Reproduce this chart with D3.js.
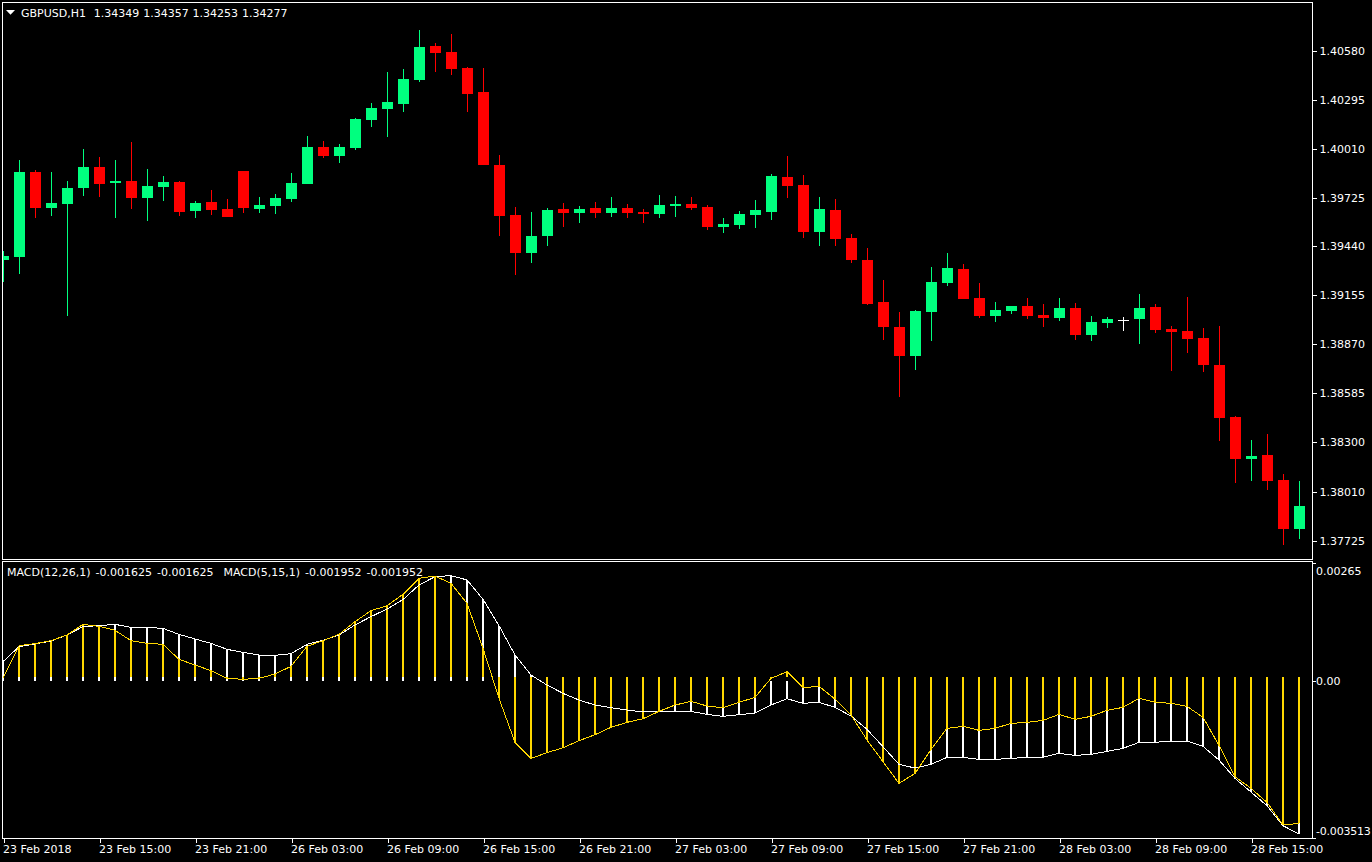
<!DOCTYPE html>
<html>
<head>
<meta charset="utf-8">
<script src="https://d3js.org/d3.v7.min.js"></script>
<style>
html,body{margin:0;padding:0;background:#000;overflow:hidden}
svg{display:block}
text{font-family:"DejaVu Sans",sans-serif;font-size:11px;fill:#fff}
</style>
</head>
<body>
<svg id="c" width="1372" height="862"></svg>
<script>
const symbolLabel = "GBPUSD,H1  1.34349 1.34357 1.34253 1.34277";
const macdLabel = "MACD(12,26,1) -0.001625 -0.001625  MACD(5,15,1) -0.001952 -0.001952";

const opens = [1.39360,1.39378,1.39874,1.39664,1.39687,1.39780,1.39903,1.39809,1.39821,1.39722,1.39786,1.39815,1.39646,1.39699,1.39658,1.39880,1.39658,1.39675,1.39716,1.39804,1.40019,1.39967,1.40014,1.40177,1.40241,1.40270,1.40410,1.40608,1.40573,1.40480,1.40340,1.39914,1.39623,1.39401,1.39500,1.39658,1.39635,1.39664,1.39635,1.39664,1.39640,1.39629,1.39675,1.39687,1.39670,1.39553,1.39565,1.39623,1.39640,1.39845,1.39798,1.39524,1.39652,1.39489,1.39360,1.39116,1.38970,1.38801,1.39057,1.39226,1.39308,1.39139,1.39034,1.39063,1.39092,1.39040,1.39022,1.39081,1.38923,1.38993,1.39013,1.39016,1.39087,1.38958,1.38947,1.38906,1.38748,1.38445,1.38200,1.38224,1.38078,1.37792];
const highs = [1.39413,1.39944,1.39885,1.39874,1.39821,1.40008,1.39961,1.39944,1.40048,1.39891,1.39850,1.39821,1.39704,1.39769,1.39716,1.39880,1.39728,1.39745,1.39868,1.40084,1.40054,1.40037,1.40188,1.40276,1.40457,1.40474,1.40702,1.40626,1.40678,1.40486,1.40480,1.39973,1.39670,1.39640,1.39664,1.39693,1.39675,1.39699,1.39728,1.39687,1.39658,1.39739,1.39734,1.39728,1.39681,1.39605,1.39646,1.39710,1.39862,1.39967,1.39856,1.39728,1.39716,1.39512,1.39430,1.39244,1.39057,1.39069,1.39320,1.39401,1.39337,1.39226,1.39116,1.39092,1.39139,1.39104,1.39139,1.39110,1.39034,1.39028,1.39028,1.39162,1.39104,1.38976,1.39145,1.38964,1.38976,1.38451,1.38311,1.38346,1.38113,1.38072];
const lows = [1.39232,1.39279,1.39605,1.39617,1.39034,1.39734,1.39728,1.39605,1.39658,1.39588,1.39704,1.39617,1.39605,1.39623,1.39611,1.39635,1.39635,1.39629,1.39699,1.39804,1.39955,1.39926,1.40002,1.40136,1.40078,1.40223,1.40398,1.40457,1.40439,1.40223,1.39914,1.39500,1.39273,1.39343,1.39442,1.39553,1.39576,1.39605,1.39611,1.39605,1.39576,1.39605,1.39611,1.39652,1.39535,1.39518,1.39541,1.39547,1.39594,1.39722,1.39489,1.39442,1.39442,1.39343,1.39098,1.38894,1.38562,1.38719,1.38888,1.39208,1.39133,1.39022,1.38999,1.39046,1.39016,1.38970,1.39005,1.38894,1.38888,1.38964,1.38947,1.38871,1.38935,1.38713,1.38818,1.38708,1.38305,1.38061,1.38072,1.38019,1.37699,1.37734];
const closes = [1.39384,1.39874,1.39664,1.39693,1.39780,1.39903,1.39804,1.39821,1.39722,1.39792,1.39815,1.39640,1.39693,1.39652,1.39611,1.39664,1.39681,1.39722,1.39809,1.40019,1.39967,1.40019,1.40183,1.40247,1.40282,1.40416,1.40602,1.40567,1.40474,1.40328,1.39914,1.39617,1.39401,1.39500,1.39652,1.39635,1.39658,1.39635,1.39664,1.39635,1.39629,1.39681,1.39687,1.39664,1.39553,1.39570,1.39629,1.39652,1.39850,1.39792,1.39524,1.39658,1.39483,1.39360,1.39104,1.38970,1.38801,1.39063,1.39232,1.39314,1.39133,1.39034,1.39069,1.39092,1.39034,1.39022,1.39081,1.38923,1.38999,1.39016,1.39013,1.39081,1.38952,1.38941,1.38900,1.38748,1.38439,1.38200,1.38218,1.38072,1.37792,1.37926];

// MACD values in millionths of a price unit
const macdWhite = [439,775,835,902,1036,1224,1246,1275,1208,1208,1185,1051,947,849,715,647,588,580,618,827,916,1036,1261,1448,1619,1830,2157,2344,2366,2270,1836,1246,588,139,-85,-271,-421,-533,-593,-645,-689,-689,-675,-675,-742,-787,-750,-712,-533,-391,-495,-473,-585,-779,-1078,-1467,-1863,-1945,-1863,-1706,-1706,-1751,-1751,-1729,-1706,-1706,-1616,-1661,-1639,-1572,-1504,-1370,-1370,-1340,-1340,-1459,-1766,-2177,-2483,-2789,-3237,-3425];
const macdGold = [65,797,842,910,1036,1275,1230,1141,910,849,827,491,364,237,65,43,65,162,334,782,910,1051,1336,1581,1693,1948,2306,2359,2194,1746,737,-383,-1370,-1728,-1601,-1490,-1333,-1198,-1033,-921,-839,-675,-533,-451,-555,-593,-473,-361,65,214,-144,-114,-399,-757,-1317,-1803,-2289,-2065,-1527,-1056,-1011,-1101,-1056,-944,-921,-877,-742,-854,-787,-652,-585,-383,-473,-495,-563,-809,-1437,-2139,-2401,-2715,-3223,-3185];
const macdGoldBase = 88;

const priceTicks = [1.40580,1.40295,1.40010,1.39725,1.39440,1.39155,1.38870,1.38585,1.38300,1.38010,1.37725];
const priceTickLabels = ["1.40580","1.40295","1.40010","1.39725","1.39440","1.39155","1.38870","1.38585","1.38300","1.38010","1.37725"];
const macdTicks = [2650,0,-3513];
const macdTickLabels = ["0.00265","0.00","-0.003513"];
const timeTicks = [0,6,12,18,24,30,36,42,48,54,60,66,72,78];
const timeTickLabels = ["23 Feb 2018","23 Feb 15:00","23 Feb 21:00","26 Feb 03:00","26 Feb 09:00","26 Feb 15:00","26 Feb 21:00","27 Feb 03:00","27 Feb 09:00","27 Feb 15:00","27 Feb 21:00","28 Feb 03:00","28 Feb 09:00","28 Feb 15:00"];

const BULL = "#00ff7f", BEAR = "#ff0000", DOJI = "#ffffff", GOLD = "#ffd700", WHITE = "#ffffff";
const pane = {left:2.5, right:1312.5, mainTop:2.5, mainBottom:559.5, subTop:561.5, subBottom:838.5};

const svg = d3.select("#c");
const x = d3.scaleLinear().domain([0,81]).range([3.5,1299.5]);
const yP = d3.scaleLinear().domain([1.37725,1.39725]).range([540.5,197.5]);
const yM = d3.scaleLinear().domain([-3513,2650]).range([838,563]);

const defs = svg.append("defs");
defs.append("clipPath").attr("id","cm").append("rect")
  .attr("x",pane.left+.5).attr("y",pane.mainTop+.5)
  .attr("width",pane.right-pane.left-1).attr("height",pane.mainBottom-pane.mainTop-1);
defs.append("clipPath").attr("id","cs").append("rect")
  .attr("x",pane.left+.5).attr("y",pane.subTop+.5)
  .attr("width",pane.right-pane.left-1).attr("height",pane.subBottom-pane.subTop-1);

const candles = opens.map((o,i)=>({i,o,h:highs[i],l:lows[i],c:closes[i]}));
const colour = d => d.c>d.o ? BULL : d.c<d.o ? BEAR : DOJI;

const gC = svg.append("g").attr("clip-path","url(#cm)").attr("shape-rendering","crispEdges");
gC.selectAll("line.w").data(candles).join("line").attr("class","w")
  .attr("x1",d=>x(d.i)).attr("x2",d=>x(d.i))
  .attr("y1",d=>yP(d.h)).attr("y2",d=>yP(d.l))
  .attr("stroke",colour).attr("stroke-width",1);
gC.selectAll("rect.b").data(candles).join("rect").attr("class","b")
  .attr("x",d=>x(d.i)-5.5).attr("width",11)
  .attr("y",d=>Math.min(yP(d.o),yP(d.c)))
  .attr("height",d=>Math.max(1,Math.abs(yP(d.o)-yP(d.c))))
  .attr("fill",colour);

const gM = svg.append("g").attr("clip-path","url(#cs)").attr("shape-rendering","crispEdges");
const barX = i => x(i)-.5;
gM.selectAll("line.bw").data(macdWhite).join("line").attr("class","bw")
  .attr("x1",(d,i)=>barX(i)).attr("x2",(d,i)=>barX(i))
  .attr("y1",yM(0)-.5).attr("y2",d=>yM(d))
  .attr("stroke",WHITE).attr("stroke-width",2);
gM.selectAll("line.bg").data(macdGold).join("line").attr("class","bg")
  .attr("x1",(d,i)=>barX(i)).attr("x2",(d,i)=>barX(i))
  .attr("y1",yM(macdGoldBase)).attr("y2",d=>yM(d))
  .attr("stroke",GOLD).attr("stroke-width",2);
const path = d3.line().x((d,i)=>barX(i)).y(d=>yM(d));
svg.append("path").datum(macdWhite).attr("clip-path","url(#cs)").attr("d",path)
  .attr("fill","none").attr("stroke",WHITE).attr("stroke-width",1).attr("shape-rendering","crispEdges");
svg.append("path").datum(macdGold).attr("clip-path","url(#cs)").attr("d",path)
  .attr("fill","none").attr("stroke",GOLD).attr("stroke-width",1).attr("shape-rendering","crispEdges");

// pane frames
[[pane.mainTop,pane.mainBottom],[pane.subTop,pane.subBottom]].forEach(([t,b])=>{
  svg.append("rect").attr("x",pane.left).attr("y",t)
    .attr("width",pane.right-pane.left).attr("height",b-t)
    .attr("fill","none").attr("stroke","#fff").attr("stroke-width",1).attr("shape-rendering","crispEdges");
});

function styleAxis(g){
  g.select(".domain").remove();
  g.selectAll("line").attr("stroke","#fff").attr("shape-rendering","crispEdges");
  g.selectAll("text").attr("fill","#fff").style("font-family",'"DejaVu Sans",sans-serif').style("font-size","11px");
}
const axP = d3.axisRight(yP).tickValues(priceTicks).tickFormat((d,i)=>priceTickLabels[i]).tickSize(4).tickPadding(3);
svg.append("g").attr("transform",`translate(${pane.right},0)`).call(axP).call(styleAxis);
const axM = d3.axisRight(yM).tickValues(macdTicks).tickFormat((d,i)=>macdTickLabels[i]).tickSize(3).tickPadding(0.5);
const gAM = svg.append("g").attr("transform",`translate(${pane.right},0)`).call(axM).call(styleAxis);
gAM.selectAll("text").attr("dy",(d,i)=> i===0 ? "11.4" : i===2 ? "-3.3" : "3.6")
  .style("letter-spacing",(d,i)=> i===2 ? "-0.2px" : null);
const axT = d3.axisBottom(x).tickValues(timeTicks).tickFormat((d,i)=>timeTickLabels[i]).tickSize(4).tickPadding(3);
const gAT = svg.append("g").attr("transform",`translate(0,${pane.subBottom})`).call(axT).call(styleAxis);
gAT.selectAll("text").attr("text-anchor","start").attr("dx","-1");

// header
svg.append("path").attr("d",d3.line()([[6,10],[15,10],[10.5,14.8]])+"Z").attr("fill","#fff");
svg.append("text").attr("x",21).attr("y",16.5).style("white-space","pre").style("word-spacing","0.4px").text(symbolLabel);
svg.append("text").attr("x",7).attr("y",576).style("white-space","pre").style("word-spacing","1.5px").text(macdLabel);
</script>
</body>
</html>
